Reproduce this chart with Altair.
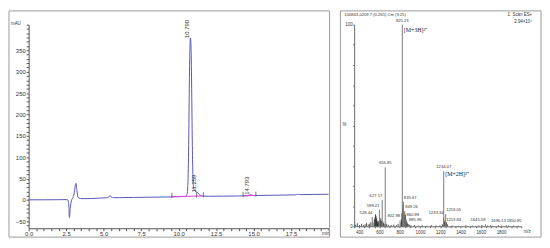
import altair as alt
import pandas as pd

# ---------------- Left panel: HPLC chromatogram ----------------
rt_min = [0.0, 1.0, 2.0, 2.5, 2.62, 2.68, 2.72, 2.77, 2.85, 2.95, 3.05, 3.12, 3.16, 3.22,
          3.3, 3.45, 3.7, 4.2, 4.8, 5.2, 5.35, 5.42, 5.5, 5.65, 6.0, 7.0, 8.0, 9.0, 10.0,
          10.45, 10.55, 10.62, 10.67, 10.71, 10.75, 10.79, 10.83, 10.87, 10.91, 10.95,
          11.0, 11.08, 11.18, 11.26, 11.34, 11.45, 11.6, 12.0, 13.0, 14.0, 14.6, 14.79,
          14.95, 15.3, 16.0, 17.0, 17.8, 17.92, 18.05, 19.0, 20.0]
abs_mau = [0.5, 0.5, 0.8, 1.0, 0.0, -15, -41, -20, -2, 6, 18, 36, 39, 22,
           6, 3.5, 3.2, 3.5, 4.5, 5.2, 7, 10.5, 7, 5.6, 5.5, 6.0, 6.5, 7.0, 7.8,
           8.2, 12, 40, 130, 260, 350, 379, 355, 260, 140, 60,
           28, 21, 19, 18, 14, 11, 9.5, 8.8, 9.0, 9.5, 10.0, 12.5,
           10.6, 10.6, 11.0, 11.6, 12.2, 13.5, 12.6, 13.0, 13.5]

base_t = [9.5, 11.6, 14.3, 15.15]
base_v = [7.9, 9.4, 10.0, 10.6]
base_seg = ["p1", "p1", "p2", "p2"]

mark_t = [9.55, 11.2, 11.65, 14.3, 15.15]
mark_v = [7.9, 9.1, 9.4, 10.0, 10.6]

peak_t = [10.790, 11.259, 14.793]
peak_v = [379, 18, 12.5]
peak_txt = ["10.790", "11.259", "14.793"]

# ---------------- Right panel: ESI mass spectrum ----------------
ms_mz = [825.23, 656.85, 1234.07, 627.17, 835.67, 599.21, 849.26, 528.44, 802.98,
         860.89, 885.96, 1233.34, 1253.05, 1253.84, 1645.58, 1696.13, 1850.85]
ms_int = [100, 29.2, 27.3, 13.0, 12.2, 8.2, 7.5, 4.6, 2.9,
          3.7, 1.0, 4.5, 6.0, 1.4, 1.0, 0.6, 0.6]
ms_txt = ["825.23", "656.85", "1234.07", "627.17", "835.67", "599.21", "849.26", "528.44",
          "802.98", "860.89", "885.96", "1233.34", "1253.05", "1253.84", "1645.58",
          "1696.13", "1850.85"]
lab_center = ["825.23", "656.85", "1234.07"]
lab_right = ["627.17", "599.21", "528.44", "802.98", "1233.34", "1645.58"]
lab_left = ["835.67", "849.26", "860.89", "885.96", "1253.05", "1253.84", "1696.13", "1850.85"]

minor_mz = [362, 381, 404, 423, 441, 458, 472, 489, 503, 515,
            536, 549, 556, 561, 566, 571, 576, 581, 586, 591,
            607, 613, 619, 634, 641, 647, 664, 672, 690, 716,
            741, 768, 784, 812, 817, 821, 828, 832, 840, 844,
            853, 856, 866, 872, 878, 895, 912, 946, 983, 1021,
            1068, 1112, 1158, 1196, 1221, 1241, 1246, 1262, 1270, 1318,
            1377, 1452, 1518, 1583, 1612, 1668, 1718, 1772, 1808, 1873,
            1922, 1968]
minor_int = [0.8, 1.5, 0.6, 1.2, 0.7, 1.0, 1.6, 0.9, 1.3, 2.0,
             1.8, 3.5, 4.6, 6.0, 5.2, 4.0, 3.0, 2.2, 1.5, 2.5,
             3.2, 4.0, 2.6, 2.4, 1.6, 1.0, 1.4, 0.9, 0.7, 0.6,
             0.9, 0.5, 1.2, 1.8, 3.5, 6.5, 9.0, 10.5, 7.0, 5.5,
             4.5, 5.8, 2.8, 2.0, 1.2, 0.8, 0.5, 0.6, 0.4, 0.5,
             0.3, 0.6, 0.4, 0.5, 1.0, 2.2, 3.0, 2.0, 1.0, 0.4,
             0.3, 0.5, 0.3, 0.4, 0.6, 0.4, 0.3, 0.5, 0.3, 0.4,
             0.3, 0.3]

FONT = "Liberation Sans"
SERIF = "Liberation Serif"
FRAME = "#9a9a9a"

# ---------- left chart ----------
LW, LH = 305, 207
hplc_x_ticks = [i * 0.5 for i in range(41)]
hplc_y_ticks = list(range(-60, 411, 10))


def lx(field="t"):
    return alt.X(f"{field}:Q",
                 scale=alt.Scale(domain=[0, 20], nice=False, zero=False),
                 axis=alt.Axis(values=hplc_x_ticks, title=None, grid=False,
                               labelExpr="datum.value % 2.5 == 0 && datum.value < 20 ? datum.label : ''",
                               labelFont=FONT, labelFontSize=6, labelColor="#333",
                               domainColor="#555", tickColor="#555", tickSize=2.5,
                               labelPadding=0, labelFlush=False, labelOverlap=False))


def ly(field="v"):
    return alt.Y(f"{field}:Q",
                 scale=alt.Scale(domain=[-66, 410], nice=False, zero=False),
                 axis=alt.Axis(values=hplc_y_ticks, title=None, grid=False,
                               labelExpr="datum.value % 50 == 0 && datum.value < 400 ? datum.label : ''",
                               labelFont=FONT, labelFontSize=6, labelColor="#333",
                               domainColor="#555", tickColor="#555", tickSize=2.5,
                               labelPadding=1, labelFlush=False, labelOverlap=False))


trace_df = pd.DataFrame({"t": rt_min, "v": abs_mau})
base_df = pd.DataFrame({"t": base_t, "v": base_v, "seg": base_seg})
mark_df = pd.DataFrame({"t": mark_t, "v": mark_v})
peak_df = pd.DataFrame({"t": peak_t, "v": peak_v, "txt": peak_txt})
one = pd.DataFrame({"k": [0]})

trace = alt.Chart(trace_df).mark_line(color="#5656b8", strokeWidth=1, interpolate="monotone").encode(
    x=lx(), y=ly())
baseline = alt.Chart(base_df).mark_line(color="#e03ce0", strokeWidth=1).encode(
    x=lx(), y=ly(), detail="seg:N")
marks = alt.Chart(mark_df).transform_calculate(v2="datum.v + 9", v1="datum.v - 3").mark_rule(
    color="#555", strokeWidth=0.8).encode(x=lx(), y=ly("v1"), y2="v2:Q")
peak_lab = alt.Chart(peak_df).mark_text(angle=270, align="left", baseline="middle",
                                         font=FONT, fontSize=6, color="#333", dy=-4).encode(
    x=lx(), y=ly(), text="txt:N")
mau = alt.Chart(one).mark_text(text="mAU", align="right", baseline="middle", font=FONT,
                               fontSize=4.5, color="#333").encode(x=alt.value(-8), y=alt.value(-1))
minlab = alt.Chart(one).mark_text(text="min", align="center", baseline="middle", font=FONT,
                                  fontSize=4.5, color="#333").encode(x=alt.value(LW - 3), y=alt.value(LH + 5.5))
lframe = alt.Chart(one).mark_rect(fill="white", fillOpacity=0, stroke=FRAME, strokeWidth=1).encode(
    x=alt.value(-20), x2=alt.value(LW + 1), y=alt.value(-14), y2=alt.value(LH + 9))

left = alt.layer(lframe, trace, baseline, marks, peak_lab, mau, minlab).properties(width=LW, height=LH)

# ---------- right chart ----------
RW, RH = 170, 205
ms_x_ticks = list(range(350, 2001, 50))
ms_y_ticks = list(range(0, 101, 10))


def rx(field="mz"):
    return alt.X(f"{field}:Q",
                 scale=alt.Scale(domain=[350, 2000], nice=False, zero=False),
                 axis=alt.Axis(values=ms_x_ticks, title=None, grid=False, format="d",
                               labelExpr="datum.value % 200 == 0 && datum.value >= 400 && datum.value <= 1800 ? datum.label : ''",
                               labelFont=FONT, labelFontSize=4.5, labelColor="#333",
                               domainColor="#666", tickColor="#666", tickSize=1.5,
                               labelPadding=2, labelFlush=False, labelOverlap=False))


def ry(field="inten"):
    return alt.Y(f"{field}:Q",
                 scale=alt.Scale(domain=[0, 100], nice=False, zero=False),
                 axis=alt.Axis(values=ms_y_ticks, title=None, grid=False,
                               labelExpr="datum.value == 0 || datum.value == 100 ? datum.label : ''",
                               labelFont=FONT, labelFontSize=4.5, labelColor="#333",
                               domainColor="#666", tickColor="#666", tickSize=1.5,
                               labelPadding=0.5, labelFlush=False, labelOverlap=False))


ms_df = pd.DataFrame({"mz": ms_mz, "inten": ms_int, "txt": ms_txt})
minor_df = pd.DataFrame({"mz": minor_mz, "inten": minor_int})

minor_sticks = alt.Chart(minor_df).mark_rule(color="#2a2a2a", strokeWidth=0.8).encode(
    x=rx(), y=ry(), y2=alt.datum(0))
sticks = alt.Chart(ms_df).mark_rule(color="#7a7a7a", strokeWidth=1).encode(
    x=rx(), y=ry(), y2=alt.datum(0))


def labels(names, align, dx):
    return alt.Chart(ms_df).transform_filter(
        alt.FieldOneOfPredicate(field="txt", oneOf=names)).mark_text(
        align=align, baseline="middle", font=FONT, fontSize=4.2, color="#333", dx=dx, dy=-4).encode(
        x=rx(), y=ry(), text="txt:N")


lab_c = labels(lab_center, "center", 0)
lab_r = labels(lab_right, "right", 0)
lab_l = labels(lab_left, "left", 0.5)

ion3 = alt.Chart(ms_df).transform_filter(alt.datum.txt == "825.23").mark_text(
    text="[M+3H]³⁺", align="left", baseline="middle", font=SERIF, fontSize=6, color="#222",
    dx=1.5, dy=5.5).encode(x=rx(), y=ry())
ion2 = alt.Chart(ms_df).transform_filter(alt.datum.txt == "1234.07").mark_text(
    text="[M+2H]²⁺", align="left", baseline="middle", font=SERIF, fontSize=6, color="#222",
    dx=1.5, dy=3).encode(x=rx(), y=ry())

hdr = alt.Chart(one).mark_text(text="100843-0209 7 (0.265) Cm (3:25)", align="left", baseline="middle",
                               font=FONT, fontSize=4.2, color="#333").encode(x=alt.value(-10), y=alt.value(-9.5))
scan = alt.Chart(one).mark_text(text="1: Scan ES+", align="right", baseline="middle",
                                font=FONT, fontSize=4.5, color="#333").encode(x=alt.value(181), y=alt.value(-9.5))
scale_txt = alt.Chart(one).mark_text(text="2.94×10⁴", align="right", baseline="middle",
                                     font=FONT, fontSize=4.5, color="#333").encode(x=alt.value(181), y=alt.value(-3))
pct = alt.Chart(one).mark_text(text="%", align="center", baseline="middle",
                               font=FONT, fontSize=4.5, color="#333").encode(x=alt.value(-10), y=alt.value(102.5))
mzt = alt.Chart(one).mark_text(text="m/z", align="center", baseline="middle",
                               font=FONT, fontSize=4.5, color="#333").encode(x=alt.value(176), y=alt.value(RH + 5.7))
rframe = alt.Chart(one).mark_rect(fill="white", fillOpacity=0, stroke=FRAME, strokeWidth=1).encode(
    x=alt.value(-14), x2=alt.value(190), y=alt.value(-14), y2=alt.value(RH + 11))

right = alt.layer(rframe, minor_sticks, sticks, lab_c, lab_r, lab_l, ion3, ion2,
                  hdr, scan, scale_txt, pct, mzt).properties(width=RW, height=RH)

chart = alt.hconcat(left, right, spacing=9).properties(padding=0).configure_view(stroke=None)

chart.save("out.html", embed_options={"renderer": "svg", "actions": False})
